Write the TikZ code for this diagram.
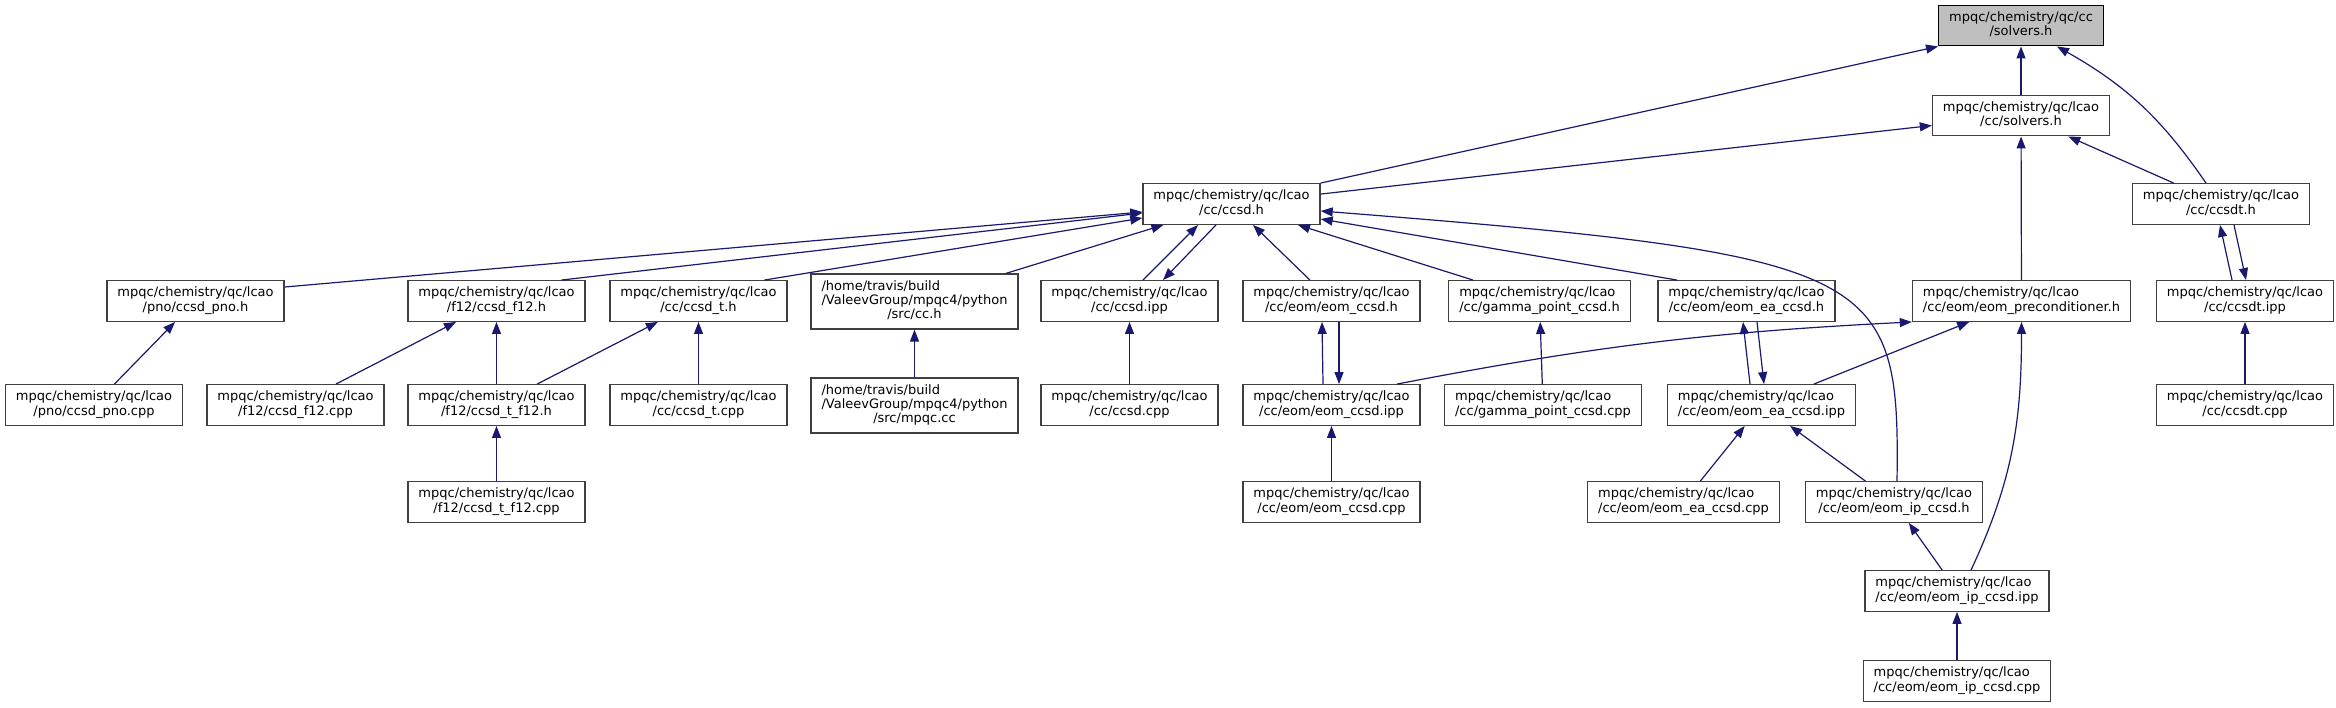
\documentclass[tikz,border=0pt]{standalone}
\usepackage{fontspec}
\setmainfont{DejaVu Sans}
\usepackage{tikz}
\usetikzlibrary{arrows.meta}
\definecolor{midnight}{RGB}{25,25,112}
\definecolor{grey75}{RGB}{191,191,191}
\newcommand{\flab}[2]{\begin{tabular}{@{}l@{}}#1\\\multicolumn{1}{@{}c@{}}{#2}\end{tabular}}
\newcommand{\flabb}[3]{\begin{tabular}{@{}l@{}}#1\\#2\\\multicolumn{1}{@{}c@{}}{#3}\end{tabular}}
\newcommand{\lc}{mpqc/chemistry/qc/lcao}
\tikzset{
  >={Triangle[length=12pt,width=9pt]},
  file/.style={draw=black!75, line width=1.3pt, fill=white, inner xsep=10.5pt, inner ysep=6pt,
    minimum height=40pt, font=\fontsize{13}{14.3}\selectfont},
  cur/.style={file, draw=black, fill=grey75},
  inc/.style={->, draw=midnight, line width=1.2pt},
}
\begin{document}
\begin{tikzpicture}[x=1pt, y=-1pt]
  \path[use as bounding box, fill=white] (0,0) rectangle (2336,707);

  % top
  \node[cur] (root) at (2021,25.5) {\flab{mpqc/chemistry/qc/cc}{/solvers.h}};
  \node[file] (lsolv) at (2021,115.5) {\flab{\lc}{/cc/solvers.h}};
  \node[file] (ccsdh) at (1231.5,204) {\flab{\lc}{/cc/ccsd.h}};
  \node[file] (ccsdth) at (2221,204) {\flab{\lc}{/cc/ccsdt.h}};

  % row 3
  \node[file] (pnoh) at (195.5,301) {\flab{\lc}{/pno/ccsd\_pno.h}};
  \node[file] (f12h) at (496.5,301) {\flab{\lc}{/f12/ccsd\_f12.h}};
  \node[file] (cctH) at (698.5,301) {\flab{\lc}{/cc/ccsd\_t.h}};
  \node[file] (cch) at (914.5,301.5) {\flabb{/home/travis/build}{/ValeevGroup/mpqc4/python}{/src/cc.h}};
  \node[file] (ccsdipp) at (1129.5,301) {\flab{\lc}{/cc/ccsd.ipp}};
  \node[file] (eomh) at (1331.5,301) {\flab{\lc}{/cc/eom/eom\_ccsd.h}};
  \node[file] (gammah) at (1539.5,301) {\flab{\lc}{/cc/gamma\_point\_ccsd.h}};
  \node[file] (eah) at (1746.5,301) {\flab{\lc}{/cc/eom/eom\_ea\_ccsd.h}};
  \node[file] (precond) at (2021.5,301) {\flab{\lc}{/cc/eom/eom\_preconditioner.h}};
  \node[file] (ccsdtipp) at (2245,301) {\flab{\lc}{/cc/ccsdt.ipp}};

  % row 4
  \node[file] (pnocpp) at (94,405) {\flab{\lc}{/pno/ccsd\_pno.cpp}};
  \node[file] (f12cpp) at (295.5,405) {\flab{\lc}{/f12/ccsd\_f12.cpp}};
  \node[file] (tf12h) at (496.5,405) {\flab{\lc}{/f12/ccsd\_t\_f12.h}};
  \node[file] (ctcpp) at (698.5,405) {\flab{\lc}{/cc/ccsd\_t.cpp}};
  \node[file] (mpqccc) at (914.5,405.5) {\flabb{/home/travis/build}{/ValeevGroup/mpqc4/python}{/src/mpqc.cc}};
  \node[file] (ccsdcpp) at (1129.5,405) {\flab{\lc}{/cc/ccsd.cpp}};
  \node[file] (eomipp) at (1331.5,405) {\flab{\lc}{/cc/eom/eom\_ccsd.ipp}};
  \node[file] (gammacpp) at (1543,405) {\flab{\lc}{/cc/gamma\_point\_ccsd.cpp}};
  \node[file] (eaipp) at (1761.5,405) {\flab{\lc}{/cc/eom/eom\_ea\_ccsd.ipp}};
  \node[file] (ccsdtcpp) at (2245,405) {\flab{\lc}{/cc/ccsdt.cpp}};

  % rows 5-7
  \node[file] (tf12cpp) at (496.5,502) {\flab{\lc}{/f12/ccsd\_t\_f12.cpp}};
  \node[file] (eomcpp) at (1331.5,502) {\flab{\lc}{/cc/eom/eom\_ccsd.cpp}};
  \node[file] (eacpp) at (1683.5,502) {\flab{\lc}{/cc/eom/eom\_ea\_ccsd.cpp}};
  \node[file] (iph) at (1894,502) {\flab{\lc}{/cc/eom/eom\_ip\_ccsd.h}};
  \node[file] (ipipp) at (1957,591) {\flab{\lc}{/cc/eom/eom\_ip\_ccsd.ipp}};
  \node[file] (ipcpp) at (1957,681) {\flab{\lc}{/cc/eom/eom\_ip\_ccsd.cpp}};

  % includes of solvers.h
  \draw[inc] (ccsdh.north east) -- (root.south west);
  \draw[inc] (lsolv) -- (root);
  \draw[inc] ([xshift=-15pt]ccsdth.north) to[bend right=13] ([xshift=36pt]root.south);
  \draw[inc] (ccsdh) -- (lsolv);
  \draw[inc] (ccsdth) -- (lsolv);
  \draw[inc] (precond) -- (lsolv);

  % includes of ccsd.h
  \draw[inc] ([yshift=14pt]pnoh.east) -- ([yshift=-8pt]ccsdh.west);
  \draw[inc] ([xshift=65pt]f12h.north) -- ([yshift=-9pt]ccsdh.west);
  \draw[inc] ([xshift=66pt]cctH.north) -- ([yshift=-14pt]ccsdh.west);
  \draw[inc] (cch) -- (ccsdh);
  \draw[inc] ([xshift=13.5pt]ccsdipp.north) -- ([xshift=-33.5pt]ccsdh.south);
  \draw[inc] ([xshift=-15.5pt]ccsdh.south) -- ([xshift=33.5pt]ccsdipp.north);
  \draw[inc] (eomh) -- (ccsdh);
  \draw[inc] (gammah) -- (ccsdh);
  \draw[inc] ([xshift=-69.5pt]eah.north) -- ([yshift=-15pt]ccsdh.east);
  \draw[inc] ([xshift=3pt]iph.north) .. controls (1900,270) and (1880,255) .. ([yshift=-7pt]ccsdh.east);

  % lower levels
  \draw[inc] (pnocpp) -- (pnoh);
  \draw[inc] (f12cpp) -- (f12h);
  \draw[inc] (tf12h) -- (f12h);
  \draw[inc] (tf12h) -- (cctH);
  \draw[inc] (ctcpp) -- (cctH);
  \draw[inc] (tf12cpp) -- (tf12h);
  \draw[inc] (mpqccc) -- (cch);
  \draw[inc] (ccsdcpp) -- (ccsdipp);
  \draw[inc] ([xshift=-8.5pt]eomipp.north) -- ([xshift=-9.5pt]eomh.south);
  \draw[inc] ([xshift=7.5pt]eomh.south) -- ([xshift=7.5pt]eomipp.north);
  \draw[inc] (eomcpp) -- (eomipp);
  \draw[inc] (gammacpp) -- (gammah);
  \draw[inc] ([xshift=65.5pt]eomipp.north) to[bend left=4] (precond.south west);
  \draw[inc] ([xshift=-11.5pt]eaipp.north) -- ([xshift=-3.5pt]eah.south);
  \draw[inc] ([xshift=10.5pt]eah.south) -- ([xshift=2.5pt]eaipp.north);
  \draw[inc] (eaipp) -- (precond);
  \draw[inc] (eacpp) -- (eaipp);
  \draw[inc] (iph) -- (eaipp);
  \draw[inc] (ipipp) -- (iph);
  \draw[inc] ([xshift=14pt]ipipp.north) to[out=65,in=-90] (precond.south);
  \draw[inc] (ipcpp) -- (ipipp);
  \draw[inc] ([xshift=-13pt]ccsdtipp.north) -- ([xshift=-1pt]ccsdth.south);
  \draw[inc] ([xshift=13pt]ccsdth.south) -- ([xshift=1pt]ccsdtipp.north);
  \draw[inc] (ccsdtcpp) -- (ccsdtipp);
\end{tikzpicture}
\end{document}
